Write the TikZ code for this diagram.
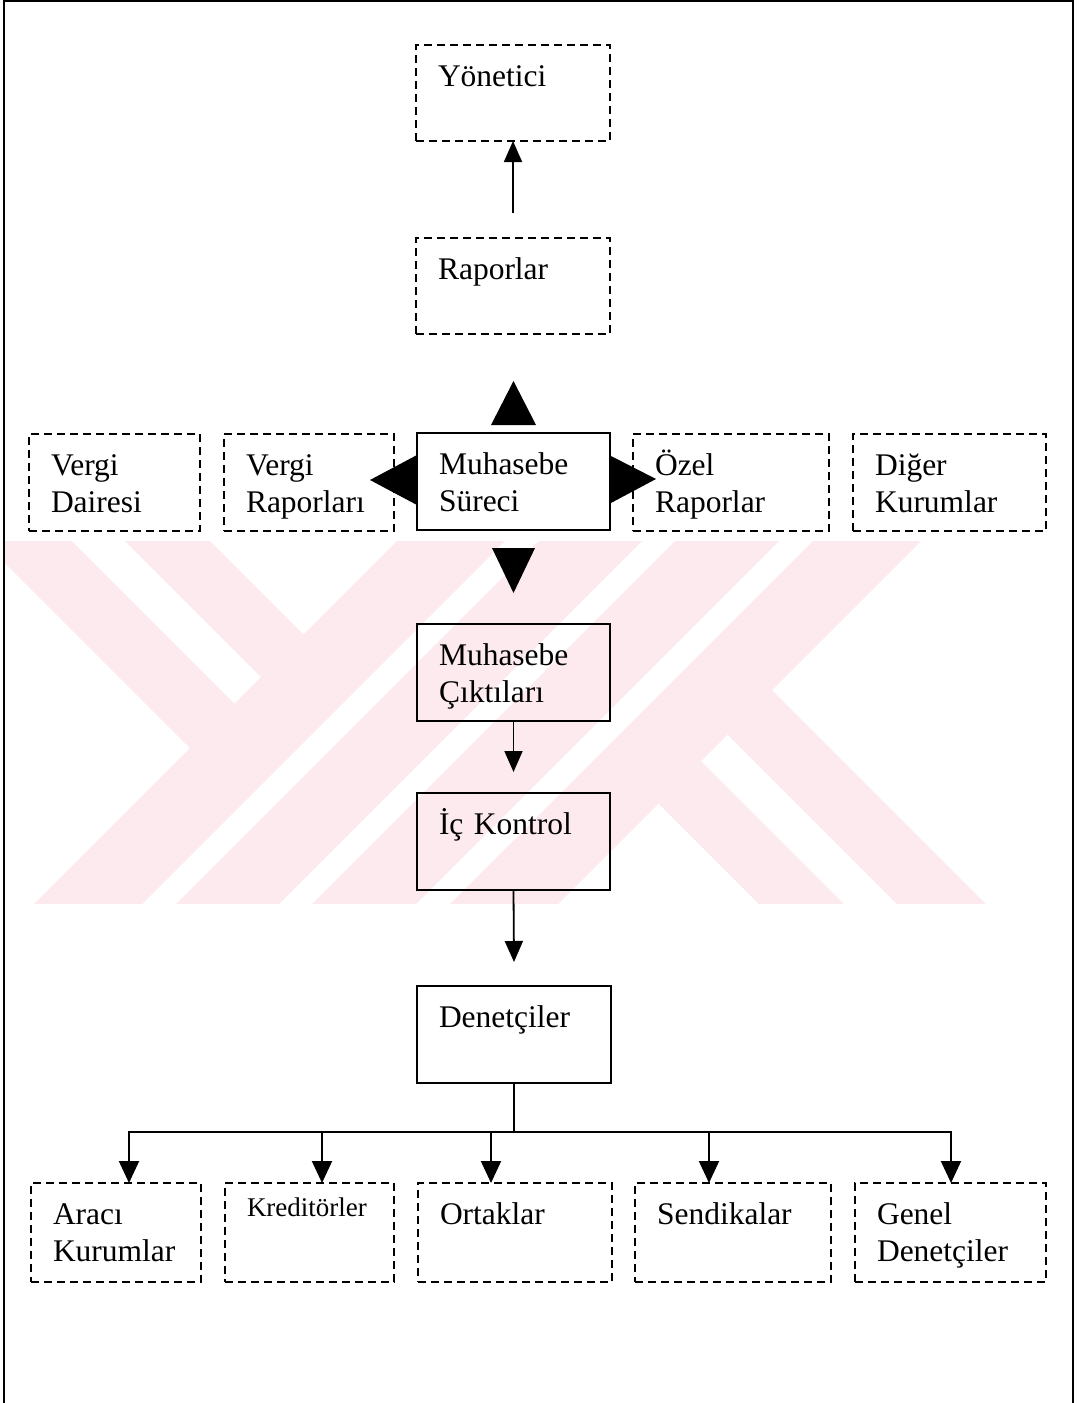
\documentclass[tikz,border=0pt]{standalone}
\usepackage{fontspec}
\setmainfont{Liberation Serif}
\usetikzlibrary{arrows.meta,calc}
\definecolor{wm}{RGB}{252,234,238}
\newcommand\diagfont{\fontsize{31.5pt}{37.5pt}\selectfont}
\newcommand\smallerfont{\fontsize{27pt}{32pt}\selectfont}
\begin{document}
\begin{tikzpicture}[x=1pt,y=-1pt,
  box/.style={rectangle, anchor=north west, outer sep=0pt, inner ysep=0pt,
    inner xsep=22pt, text height=41pt, align=left, font=\diagfont, line width=2pt},
  solidb/.style={box, draw},
  dashb/.style={box, draw, dash pattern=on 8pt off 5pt},
  arr/.style={line width=1.8pt, -{Triangle[length=21pt,width=18pt]}},
  arrb/.style={line width=2pt, -{Triangle[length=22pt,width=20pt]}},
  bus/.style={line width=2pt}]
\useasboundingbox (0,0) rectangle (1080,1403);

% watermark
\begin{scope}
\clip (5,541) rectangle (1072,903);
\fill[wm] (-58,500) -- (31,500) -- (234.5,703.5) -- (190,748) -- cycle;
\fill[wm] (84,500) -- (169,500) -- (303.5,634.5) -- (261,677) -- cycle;
\fill[wm] (438,500) -- (546,500) -- (96,950) -- (-12,950) -- cycle;
\fill[wm] (580,500) -- (683,500) -- (233,950) -- (130,950) -- cycle;
\fill[wm] (716,500) -- (820,500) -- (370,950) -- (266,950) -- cycle;
\fill[wm] (854,500) -- (962,500) -- (512,950) -- (404,950) -- cycle;
\fill[wm] (658.5,803.5) -- (701,761) -- (890,950) -- (805,950) -- cycle;
\fill[wm] (727.5,734.5) -- (772,690) -- (1032,950) -- (943,950) -- cycle;
\end{scope}

% frame
\draw[line width=1.8pt] (4,1403) -- (4,1) -- (1073,1) -- (1073,1403);

% boxes
\node[dashb, text width=150pt, text depth=55pt] (yon) at (416,45) {Yönetici};
\node[dashb, text width=150pt, text depth=55pt] (rap) at (416,238) {Raporlar};
\node[dashb, text width=127pt, text depth=56pt] (vd) at (29,434) {Vergi\\Dairesi};
\node[dashb, text width=126pt, text depth=56pt] (vr) at (224,434) {Vergi\\Raporları};
\node[solidb, text width=149pt, text depth=56pt] (ms) at (417,433) {Muhasebe\\Süreci};
\node[dashb, text width=152pt, text depth=56pt] (oz) at (633,434) {Özel\\Raporlar};
\node[dashb, text width=149pt, text depth=56pt] (dk) at (853,434) {Diğer\\Kurumlar};
\node[solidb, text width=149pt, text depth=56pt] (mc) at (417,624) {Muhasebe\\Çıktıları};
\node[solidb, text width=149pt, text depth=56pt] (ik) at (417,793) {İç Kontrol};
\node[solidb, text width=150pt, text depth=56pt] (den) at (417,986) {Denetçiler};
\node[dashb, text width=126pt, text depth=58pt] (ak) at (31,1183) {Aracı\\Kurumlar};
\node[dashb, text width=125pt, text height=33pt, text depth=66pt, font=\smallerfont] (kr) at (225,1183) {Kreditörler};
\node[dashb, text width=150pt, text depth=58pt] (ort) at (418,1183) {Ortaklar};
\node[dashb, text width=152pt, text depth=58pt] (sen) at (635,1183) {Sendikalar};
\node[dashb, text width=147pt, text depth=58pt] (gd) at (855,1183) {Genel\\Denetçiler};

% big arrowheads around Muhasebe Süreci
\fill ($(ms.north)+(-22.5,-8)$) -- ($(ms.north)+(22.5,-8)$) -- ($(ms.north)+(0,-52)$) -- cycle;
\fill ($(ms.west)+(0,-26.5)$) -- ($(ms.west)+(0,23.5)$) -- ($(ms.west)+(-47,-1.5)$) -- cycle;
\fill ($(ms.east)+(1,-25.5)$) -- ($(ms.east)+(1,21.5)$) -- ($(ms.east)+(46,-2.5)$) -- cycle;
\fill ($(ms.south)+(-21.5,18)$) -- ($(ms.south)+(21.5,18)$) -- ($(ms.south)+(0,63)$) -- cycle;

% connectors
\draw[arr] ([yshift=25pt]rap.north) -- (yon.south);
\draw[arr] (mc.south) -- ([yshift=21pt]ik.north);
\draw[arr] (ik.south) -- ([yshift=24pt]den.north);
\coordinate (busc) at ($(den.south)+(0,49)$);
\draw[bus] (den.south) -- (busc);
\draw[arrb] (busc) -| ($(ak.north west)+(98,0)$);
\draw[arrb] (busc) -| ($(kr.north west)+(97,0)$);
\draw[arrb] (busc) -| ($(ort.north west)+(73,0)$);
\draw[arrb] (busc) -| ($(sen.north west)+(74,0)$);
\draw[arrb] (busc) -| ($(gd.north west)+(96,0)$);
\end{tikzpicture}
\end{document}
